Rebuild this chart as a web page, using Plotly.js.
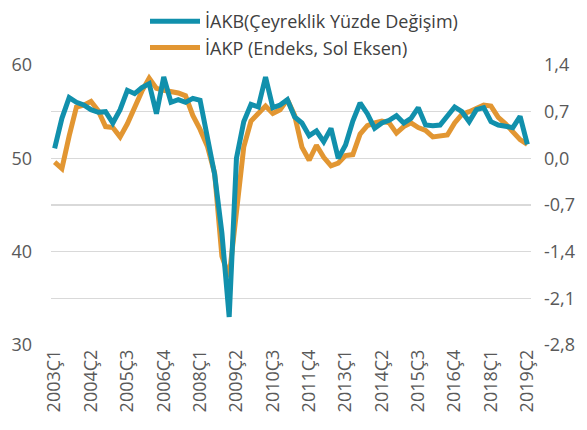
<!DOCTYPE html>
<html>
<head>
<meta charset="utf-8">
<script src="https://cdn.plot.ly/plotly-3.0.1.min.js"></script>
<style>html,body{margin:0;padding:0;background:#fff;}#chart{width:587px;height:430px;}</style>
</head>
<body>
<div id="chart"></div>
<script>
const categories = [
"2003Ç1","2003Ç2","2003Ç3","2003Ç4","2004Ç1","2004Ç2","2004Ç3","2004Ç4",
"2005Ç1","2005Ç2","2005Ç3","2005Ç4","2006Ç1","2006Ç2","2006Ç3","2006Ç4",
"2007Ç1","2007Ç2","2007Ç3","2007Ç4","2008Ç1","2008Ç2","2008Ç3","2008Ç4",
"2009Ç1","2009Ç2","2009Ç3","2009Ç4","2010Ç1","2010Ç2","2010Ç3","2010Ç4",
"2011Ç1","2011Ç2","2011Ç3","2011Ç4","2012Ç1","2012Ç2","2012Ç3","2012Ç4",
"2013Ç1","2013Ç2","2013Ç3","2013Ç4","2014Ç1","2014Ç2","2014Ç3","2014Ç4",
"2015Ç1","2015Ç2","2015Ç3","2015Ç4","2016Ç1","2016Ç2","2016Ç3","2016Ç4",
"2017Ç1","2017Ç2","2017Ç3","2017Ç4","2018Ç1","2018Ç2","2018Ç3","2018Ç4",
"2019Ç1","2019Ç2"];

const tickLabels = ["2003Ç1","2004Ç2","2005Ç3","2006Ç4","2008Ç1","2009Ç2","2010Ç3",
"2011Ç4","2013Ç1","2014Ç2","2015Ç3","2016Ç4","2018Ç1","2019Ç2"];

// İAKB (quarterly % change, right axis)
const iakb = [0.15,0.60,0.91,0.84,0.80,0.73,0.69,0.70,0.53,0.73,
1.02,0.97,1.06,1.12,0.67,1.22,0.84,0.88,0.84,0.90,
0.87,0.27,-0.24,-1.12,-2.38,0.00,0.55,0.81,0.77,1.22,
0.76,0.80,0.88,0.62,0.53,0.34,0.41,0.25,0.45,0.00,
0.20,0.56,0.83,0.67,0.45,0.53,0.57,0.64,0.53,0.60,
0.76,0.50,0.49,0.50,0.64,0.77,0.70,0.55,0.73,0.76,
0.55,0.50,0.48,0.46,0.63,0.21];

// İAKP (index, left axis)
const iakp = [49.6,48.9,52.4,55.5,55.7,56.1,55.1,53.4,53.3,52.3,
53.7,55.6,57.2,58.6,57.5,57.3,57.2,57.0,56.7,54.6,
53.1,51.3,48.4,39.5,37.3,44.5,51.2,54.0,54.8,55.6,
54.8,55.2,56.3,54.6,51.2,49.8,51.4,50.1,49.2,49.5,
50.3,50.4,52.6,53.5,53.8,54.0,53.8,52.7,53.4,53.8,
53.3,53.0,52.3,52.4,52.5,53.8,54.7,55.0,55.3,55.7,
55.6,54.4,53.7,52.8,52.0,51.5];

const leftTickVals = [30,40,50,60];
const rightTickVals = [-2.8,-2.1,-1.4,-0.7,0,0.7,1.4];
const rightTickText = ["-2,8","-2,1","-1,4","-0,7","0,0","0,7","1,4"];

const n = categories.length;
const xr = [-0.5, n - 0.5];
const gridVals = [];
for (let k = 0; k < n; k += 5) gridVals.push(k - 0.5);

const FONT = "Open Sans, sans-serif";
const TEAL = "#1190AC";
const ORANGE = "#E29632";

const traces = [
  {x: categories, y: iakb, type: "scatter", mode: "lines", name: "İAKB(Çeyreklik Yüzde Değişim)",
   xaxis: "x", yaxis: "y2", line: {color: TEAL, width: 5}, hoverinfo: "skip"},
  {x: categories, y: iakp, type: "scatter", mode: "lines", name: "İAKP (Endeks, Sol Eksen)",
   xaxis: "x", yaxis: "y", line: {color: ORANGE, width: 5}, hoverinfo: "skip"}
];

const layout = {
  width: 587, height: 430,
  margin: {l: 51, r: 56, t: 65, b: 85, pad: 0, autoexpand: false},
  paper_bgcolor: "#fff", plot_bgcolor: "#fff",
  font: {family: FONT, size: 18, color: "#595959"},
  showlegend: true,
  legend: {x: 145/587, y: 1 - 3/430, xref: "container", yref: "container",
    xanchor: "left", yanchor: "top", orientation: "v",
    font: {family: FONT, size: 18, color: "#404040"}, bgcolor: "rgba(0,0,0,0)",
    itemwidth: 50, tracegroupgap: 0},
  xaxis: {type: "category", range: xr, tickmode: "array", tickvals: tickLabels, ticktext: tickLabels,
    tickangle: -90, showgrid: false, zeroline: false, showline: false, ticks: "", automargin: false,
    tickfont: {family: FONT, size: 18, color: "#595959"}},
  xaxis2: {overlaying: "x", type: "linear", range: xr, tickmode: "array", tickvals: gridVals,
    showticklabels: false, showgrid: true, gridcolor: "#d9d9d9", gridwidth: 1.5, automargin: false,
    zeroline: false, showline: false, ticks: "", anchor: "y"},
  xaxis3: {overlaying: "x", type: "linear", range: xr, tickmode: "linear", tick0: -0.5, dtick: 2.5,
    showticklabels: false, showgrid: false, zeroline: false, showline: true, automargin: false,
    linecolor: "#595959", linewidth: 1.5, ticks: "outside", ticklen: 5, tickwidth: 1.5,
    tickcolor: "#595959", anchor: "free", position: 2/3, layer: "below traces"},
  yaxis: {range: [30, 60], tickmode: "array", tickvals: leftTickVals, showgrid: false,
    zeroline: false, showline: false, ticks: "", ticklabelstandoff: 18, automargin: false,
    tickfont: {family: FONT, size: 18, color: "#595959"}},
  yaxis2: {overlaying: "y", side: "right", range: [-2.8, 1.4], tickmode: "array",
    tickvals: rightTickVals, ticktext: rightTickText, showgrid: true, gridcolor: "#d9d9d9",
    gridwidth: 1.5, zeroline: false, showline: false, ticks: "", ticklabelstandoff: 12, automargin: false,
    tickfont: {family: FONT, size: 18, color: "#595959"}}
};

Plotly.newPlot("chart", traces, layout, {staticPlot: true, displayModeBar: false});
</script>
</body>
</html>
